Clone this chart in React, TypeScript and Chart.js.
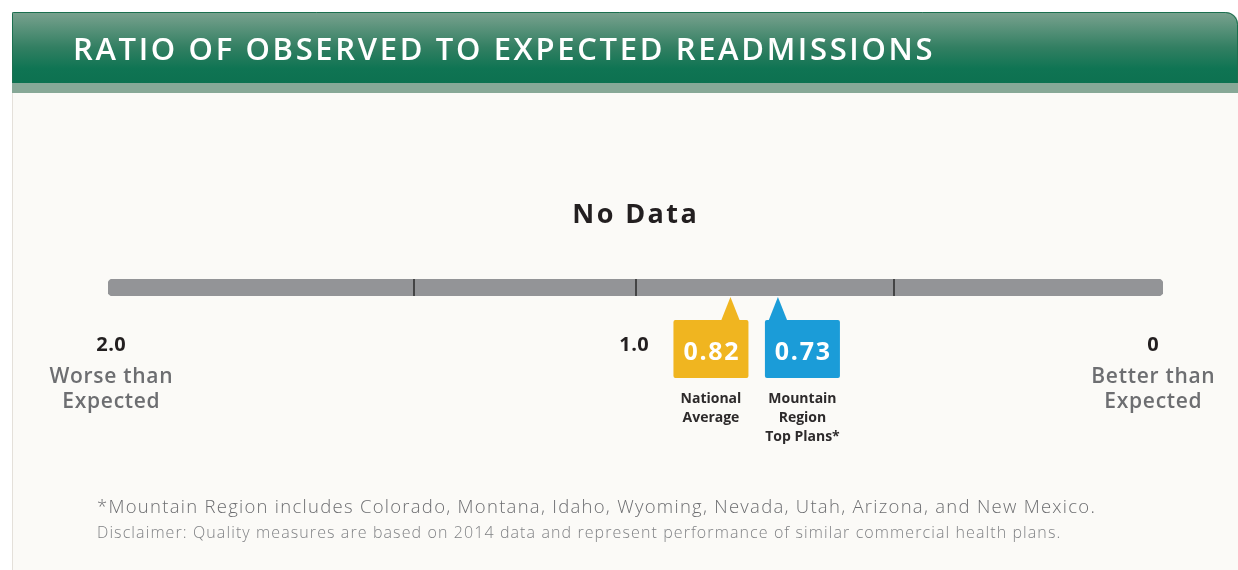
import React, { useEffect, useRef } from "react";
import { Chart, registerables } from "chart.js";

Chart.register(...registerables);

// ---- data ----
const TITLE = "RATIO OF OBSERVED TO EXPECTED READMISSIONS";
const SUBTITLE = "No Data";
const SCALE_MIN = 0;
const SCALE_MAX = 2;
const TICK_MARKS = [1.42, 1.0, 0.51];
const AXIS_VALUES = [2, 1, 0];
const AXIS_LABELS = ["2.0", "1.0", "0"];
const AXIS_CAPTIONS = [["Worse than", "Expected"], [], ["Better than", "Expected"]];
const MARKER_VALUES = [0.82, 0.73];
const MARKER_TEXT = ["0.82", "0.73"];
const MARKER_NAMES = [["National", "Average"], ["Mountain", "Region", "Top Plans*"]];
const MARKER_COLORS = ["#f0b520", "#1b9cd8"];
const FOOTNOTES = [
  "*Mountain Region includes Colorado, Montana, Idaho, Wyoming, Nevada, Utah, Arizona, and New Mexico.",
  "Disclaimer: Quality measures are based on 2014 data and represent performance of similar commercial health plans.",
];

// ---- style ----
const W = 1238;
const H = 570;
const FONT = "'Open Sans', 'Noto Sans', sans-serif";
const BOX_SHIFT = [-19.5, 24.5];
const AXIS_NUDGE = [3, -1.5, -10];

function spacing(ctx: CanvasRenderingContext2D, px: number) {
  (ctx as any).letterSpacing = `${px}px`;
}

function centered(ctx: CanvasRenderingContext2D, text: string, x: number, y: number, ls: number) {
  spacing(ctx, ls);
  ctx.textAlign = "center";
  ctx.fillText(text, x + ls / 2, y);
  spacing(ctx, 0);
}

const backdrop = {
  id: "backdrop",
  beforeDraw(chart: any) {
    const ctx = chart.ctx as CanvasRenderingContext2D;
    ctx.save();
    ctx.fillStyle = "#ffffff";
    ctx.fillRect(0, 0, W, H);
    // card body
    ctx.fillStyle = "#fbfaf7";
    ctx.fillRect(12, 90, W - 12, H - 90);
    ctx.fillStyle = "#e4e0da";
    ctx.fillRect(12, 90, 1, H - 90);
    // header
    const g = ctx.createLinearGradient(0, 12, 0, 83);
    g.addColorStop(0, "#7aa28f");
    g.addColorStop(0.5, "#327f62");
    g.addColorStop(0.8, "#0f7453");
    g.addColorStop(1, "#0d7150");
    ctx.fillStyle = g;
    ctx.beginPath();
    (ctx as any).roundRect(12, 12, W - 12, 71, [1, 12, 0, 0]);
    ctx.fill();
    ctx.strokeStyle = "#1b6f4f";
    ctx.lineWidth = 1;
    ctx.beginPath();
    (ctx as any).roundRect(12.5, 12.5, W - 13, 71, [1, 12, 0, 0]);
    ctx.stroke();
    // strip
    ctx.fillStyle = "#87a897";
    ctx.fillRect(12, 83, W - 12, 10);
    // title
    ctx.fillStyle = "#ffffff";
    ctx.font = `600 31px ${FONT}`;
    ctx.textAlign = "left";
    ctx.textBaseline = "alphabetic";
    spacing(ctx, 2.65);
    ctx.fillText(TITLE, 73, 60);
    spacing(ctx, 0);
    ctx.restore();
  },
  afterDatasetsDraw(chart: any) {
    const ctx = chart.ctx as CanvasRenderingContext2D;
    const xs = chart.scales.x;
    const area = chart.chartArea;
    ctx.save();
    ctx.textBaseline = "alphabetic";

    // subtitle
    ctx.fillStyle = "#231f20";
    ctx.font = `700 27px ${FONT}`;
    centered(ctx, SUBTITLE, (area.left + area.right) / 2 - 1, area.top - 56, 2.4);

    // tick marks on bar
    ctx.strokeStyle = "#2a2a2a";
    ctx.lineWidth = 1.5;
    TICK_MARKS.forEach((v) => {
      const x = Math.round(xs.getPixelForValue(v));
      ctx.beginPath();
      ctx.moveTo(x, area.top);
      ctx.lineTo(x, area.bottom);
      ctx.stroke();
    });

    // axis labels
    AXIS_VALUES.forEach((v, i) => {
      const x = xs.getPixelForValue(v) + AXIS_NUDGE[i];
      ctx.fillStyle = "#231f20";
      ctx.font = `700 20px ${FONT}`;
      centered(ctx, AXIS_LABELS[i], x, area.bottom + 55, 0.5);
      ctx.fillStyle = "#6d6e71";
      ctx.font = `600 21px ${FONT}`;
      AXIS_CAPTIONS[i].forEach((line, j) => {
        centered(ctx, line, x, area.bottom + 87 + j * 25, 0.7);
      });
    });

    // markers
    const boxTop = area.bottom + 24;
    const boxW = 75;
    const boxH = 58;
    MARKER_VALUES.forEach((v, i) => {
      const x = xs.getPixelForValue(v);
      const cx = x + BOX_SHIFT[i];
      ctx.fillStyle = MARKER_COLORS[i];
      ctx.beginPath();
      ctx.moveTo(x, area.bottom + 1);
      ctx.lineTo(x + 9.5, boxTop + 1);
      ctx.lineTo(x - 9.5, boxTop + 1);
      ctx.closePath();
      ctx.fill();
      ctx.beginPath();
      (ctx as any).roundRect(cx - boxW / 2, boxTop, boxW, boxH, 2);
      ctx.fill();
      ctx.fillStyle = "#ffffff";
      ctx.font = `700 25px ${FONT}`;
      centered(ctx, MARKER_TEXT[i], cx, boxTop + 40, 1.7);
      ctx.fillStyle = "#2d2a2b";
      ctx.font = `700 14px ${FONT}`;
      MARKER_NAMES[i].forEach((line, j) => {
        centered(ctx, line, cx, boxTop + 83 + j * 19, 0);
      });
    });

    // footnotes
    ctx.textAlign = "left";
    ctx.fillStyle = "#6d6e71";
    ctx.font = `300 18.5px ${FONT}`;
    spacing(ctx, 1.27);
    ctx.fillText(FOOTNOTES[0], 97, 513);
    ctx.fillStyle = "#808285";
    ctx.font = `300 16px ${FONT}`;
    spacing(ctx, 1.1);
    ctx.fillText(FOOTNOTES[1], 97, 538);
    spacing(ctx, 0);
    ctx.restore();
  },
};

export default function App() {
  const ref = useRef<HTMLCanvasElement>(null);
  useEffect(() => {
    if (!ref.current) return;
    const chart = new Chart(ref.current, {
      type: "bar",
      data: {
        labels: [""],
        datasets: [
          {
            data: [[SCALE_MIN, SCALE_MAX]] as any,
            backgroundColor: "#939497",
            borderRadius: 5,
            borderSkipped: false,
            barPercentage: 1,
            categoryPercentage: 1,
          },
        ],
      },
      options: {
        indexAxis: "y",
        responsive: false,
        animation: false,
        events: [],
        layout: { padding: { left: 108, right: 75, top: 279, bottom: 274 } },
        plugins: { legend: { display: false }, tooltip: { enabled: false } },
        scales: {
          x: { type: "linear", min: SCALE_MIN, max: SCALE_MAX, reverse: true, display: false },
          y: { display: false },
        },
      },
      plugins: [backdrop],
    });
    const fonts = (document as any).fonts;
    if (fonts && fonts.load) {
      Promise.all([
        fonts.load(`600 31px 'Open Sans'`),
        fonts.load(`700 20px 'Open Sans'`),
        fonts.load(`300 18px 'Open Sans'`),
      ])
        .then(() => chart.update())
        .catch(() => {});
    }
    return () => chart.destroy();
  }, []);
  return (
    <canvas
      ref={ref}
      width={W}
      height={H}
      style={{ position: "absolute", left: 0, top: 0, width: W, height: H, display: "block" }}
    />
  );
}
